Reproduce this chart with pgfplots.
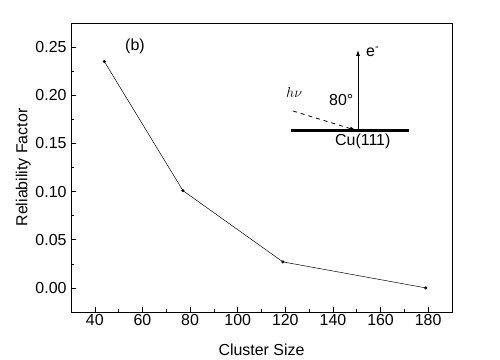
\documentclass[border=0pt]{standalone}
\usepackage{fontspec}
\setmainfont{Liberation Sans}
\usepackage{pgfplots}
\pgfplotsset{compat=1.18}
\usetikzlibrary{arrows.meta}
\begin{document}
\begin{tikzpicture}
\begin{axis}[
  name=ax,
  scale only axis,
  width=381bp, height=289bp,
  xmin=30, xmax=190, ymin=-0.025, ymax=0.275,
  xtick={40,60,...,180},
  ytick={0,0.05,...,0.25},
  minor x tick num=1, minor y tick num=1,
  tick align=inside,
  xtick pos=lower, ytick pos=left,
  axis line style={line width=0.8pt},
  major tick length=5bp, minor tick length=3bp,
  tick style={black, line width=0.6pt},
  /pgf/number format/assume math mode=true,
  yticklabel style={/pgf/number format/fixed, /pgf/number format/fixed zerofill, /pgf/number format/precision=2},
  ticklabel style={font=\fontsize{16}{19}\selectfont},
  xticklabel style={yshift=1bp},
  yticklabel style={xshift=-1bp},
  xlabel={Cluster Size}, ylabel={Reliability Factor},
  label style={font=\fontsize{16}{19}\selectfont},
  xlabel style={yshift=-11bp},
  ylabel style={yshift=-2bp},
  clip=false,
]
\addplot[black, line width=0.5pt, mark=*, mark size=1.3bp] coordinates {
  (44,0.235) (77,0.101) (119,0.027) (179,0.0)
};
\coordinate (bl) at (rel axis cs:-0.1864,-0.1661);
\coordinate (tr) at (rel axis cs:1.1260,1.0796);
\end{axis}
\useasboundingbox (bl) rectangle (tr);
\begin{scope}[shift={(ax.south west)}, x=1bp, y=-1bp, xshift=-71bp, yshift=312bp]
  \draw[line width=3bp] (291,131) -- (409,131);
  \draw[line width=0.8pt, -{Latex[length=6bp,width=4bp]}] (358,131) -- (358,50);
  \draw[line width=0.8pt, dash pattern=on 4bp off 4bp] (293,111) -- (350,128.5);
  \draw[line width=0.8pt, -{Latex[length=6bp,width=4bp]}] (350,128.5) -- (356,130.3);
  \node[anchor=base west, inner sep=0pt, font=\fontsize{16}{19}\selectfont] at (366,57) {e\textsuperscript{-}};
  \node[anchor=base west, inner sep=0pt, font=\fontsize{14}{17}\selectfont] at (286,98) {$h\nu$};
  \node[anchor=base west, inner sep=0pt, font=\fontsize{16}{19}\selectfont] at (329,106) {80°};
  \node[anchor=base west, inner sep=0pt, font=\fontsize{16}{19}\selectfont] at (335,146) {Cu(111)};
  \node[anchor=base west, inner sep=0pt, font=\fontsize{16}{19}\selectfont] at (125,51) {(b)};
\end{scope}
\end{tikzpicture}
\end{document}
